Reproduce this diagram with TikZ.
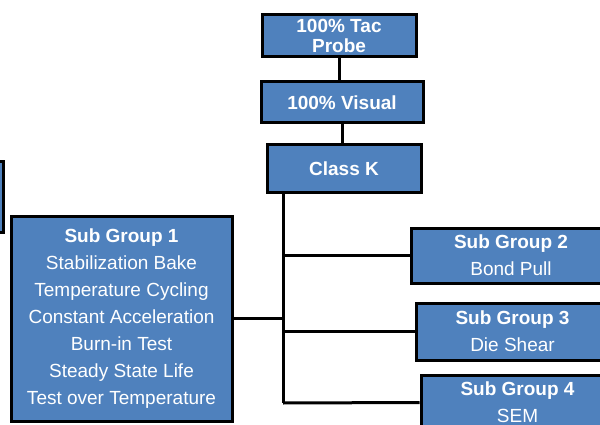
\documentclass[tikz,border=0pt]{standalone}
\usepackage{fontspec}
\setmainfont{Liberation Sans}
\usetikzlibrary{positioning}
\definecolor{boxblue}{HTML}{4F81BD}
\tikzset{
  flowbox/.style={draw=black, fill=boxblue, line width=3pt, text=white, align=center,
    inner sep=0pt, font=\fontsize{19}{27}\selectfont},
  link/.style={draw=black, line width=3pt}
}
\begin{document}
\begin{tikzpicture}[x=1pt, y=-1pt]
  \useasboundingbox (0,0) rectangle (600,425);
  \clip (0,0) rectangle (600,425);
  \node[flowbox, minimum width=86pt, minimum height=70pt] (prev) at (-40,197) {};
  \node[flowbox, minimum width=154pt, minimum height=42pt, font=\fontsize{19}{20}\selectfont\bfseries] (tac) at (339,36) {100\% Tac\\Probe};
  \node[flowbox, minimum width=162pt, minimum height=41pt, font=\fontsize{19}{20}\selectfont\bfseries] (vis) at (342,102.5) {100\% Visual};
  \node[flowbox, minimum width=154pt, minimum height=48pt, font=\fontsize{19}{20}\selectfont\bfseries] (cls) at (344,169) {Class K};
  \node[flowbox, minimum width=221pt, minimum height=205pt] (sg1) at (121.5,318.5)
    {\textbf{Sub Group 1}\\Stabilization Bake\\Temperature Cycling\\Constant Acceleration\\Burn-in Test\\Steady State Life\\Test over Temperature};
  \node[flowbox, minimum width=200pt, minimum height=55pt] (sg2) at (511,255.5) {\textbf{Sub Group 2}\\Bond Pull};
  \node[flowbox, minimum width=193pt, minimum height=57pt] (sg3) at (512.5,331.5) {\textbf{Sub Group 3}\\Die Shear};
  \node[flowbox, minimum width=193pt, minimum height=55pt] (sg4) at (517.5,402.5) {\textbf{Sub Group 4}\\SEM};
  \coordinate (trunk) at (283,403);
  \draw[link] (tac.south) -- (tac.south |- vis.north);
  \draw[link] (vis.south) -- (vis.south |- cls.north);
  \draw[link] (cls.south -| trunk) -- (trunk);
  \draw[link] (sg1.east) -- (sg1.east -| trunk);
  \draw[link] (sg2.west -| trunk) -- (sg2.west);
  \draw[link] (sg3.west -| trunk) -- (sg3.west);
  \draw[link] (trunk) -- (sg4.west);
\end{tikzpicture}
\end{document}
